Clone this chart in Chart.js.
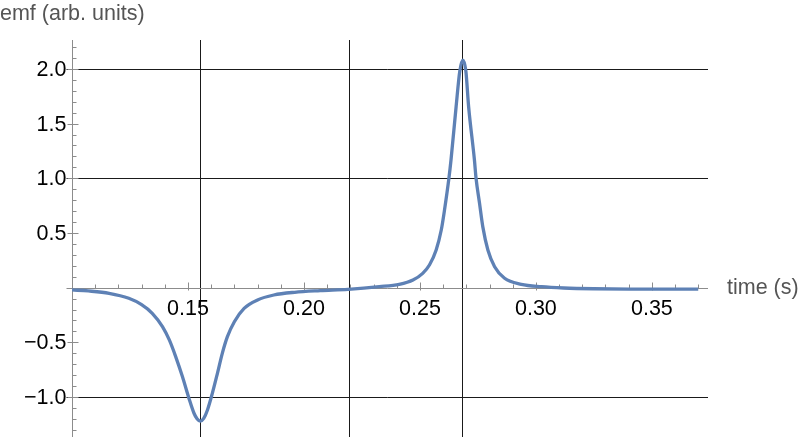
<!DOCTYPE html>
<html>
<head>
<meta charset="utf-8">
<script src="https://cdn.jsdelivr.net/npm/chart.js@4/dist/chart.umd.min.js"></script>
<style>
  html, body { margin: 0; padding: 0; background: #fff; }
  #wrap { width: 800px; height: 443px; }
</style>
</head>
<body>
<div id="wrap"><canvas id="chart" width="800" height="443"></canvas></div>
<script>
// values
const times = [
    0.100, 0.107, 0.116, 0.1245, 0.130, 0.1346, 0.139, 0.142, 0.1447, 0.1476,
    0.1504, 0.1526, 0.1539, 0.1553, 0.1568, 0.1584, 0.1605, 0.1627, 0.1648, 0.167,
    0.170, 0.1742, 0.180, 0.187, 0.196, 0.207, 0.219, 0.2325, 0.2411, 0.247,
    0.2512, 0.2541, 0.257, 0.2592, 0.2606, 0.2625, 0.2634, 0.2656, 0.2672, 0.2685,
    0.2698, 0.271, 0.2735, 0.2742, 0.2757, 0.2771, 0.2793, 0.2822, 0.2865, 0.2937,
    0.3024, 0.312, 0.325, 0.345, 0.370
];
const emf = [
    -0.021, -0.030, -0.051, -0.097, -0.155, -0.234, -0.356, -0.48, -0.63, -0.813,
    -1.01, -1.148, -1.198, -1.22, -1.195, -1.118, -0.966, -0.783, -0.60, -0.448,
    -0.311, -0.189, -0.112, -0.067, -0.042, -0.027, -0.015, 0.009, 0.031, 0.07,
    0.131, 0.207, 0.345, 0.527, 0.71, 1.0, 1.167, 1.654, 1.98, 2.08,
    1.98, 1.654, 1.167, 1.0, 0.771, 0.558, 0.345, 0.192, 0.086, 0.031,
    0.009, -0.003, -0.010, -0.013, -0.014
];

const xTicks = [0.15, 0.20, 0.25, 0.30, 0.35];
const xTickLabels = ['0.15', '0.20', '0.25', '0.30', '0.35'];
const yTicks = [2.0, 1.5, 1.0, 0.5, -0.5, -1.0];
const yTickLabels = ['2.0', '1.5', '1.0', '0.5', '\u22120.5', '\u22121.0'];
const xGrid = [0.1552, 0.2195, 0.2683];
const yGrid = [2.0, 1.0, -1.0];

const FONT = '"Liberation Sans", Arial, Helvetica, sans-serif';

const axesPlugin = {
    id: 'mmaAxes',
    beforeDatasetsDraw(chart) {
        const ctx = chart.ctx;
        const xs = chart.scales.x;
        const ys = chart.scales.y;
        const area = chart.chartArea;
        const x0 = Math.round(xs.getPixelForValue(0.1)) + 0.5;
        const y0 = Math.round(ys.getPixelForValue(0)) + 0.5;

        ctx.save();
        // grid lines
        ctx.strokeStyle = '#1a1a1a';
        ctx.lineWidth = 1;
        xGrid.forEach(v => {
            const px = Math.round(xs.getPixelForValue(v)) + 0.5;
            ctx.beginPath();
            ctx.moveTo(px, area.top);
            ctx.lineTo(px, area.bottom);
            ctx.stroke();
        });
        yGrid.forEach(v => {
            const py = Math.round(ys.getPixelForValue(v)) + 0.5;
            ctx.beginPath();
            ctx.moveTo(x0 - 6, py);
            ctx.lineTo(area.right, py);
            ctx.stroke();
        });

        // axis lines
        ctx.strokeStyle = '#8c8c8c';
        ctx.beginPath();
        ctx.moveTo(x0, area.top);
        ctx.lineTo(x0, area.bottom);
        ctx.moveTo(x0 - 6, y0);
        ctx.lineTo(area.right, y0);
        ctx.stroke();

        // x ticks (inward, upward)
        ctx.beginPath();
        for (let i = 11; i <= 37; i++) {
            const px = Math.round(xs.getPixelForValue(i / 100)) + 0.5;
            const major = i % 5 === 0;
            ctx.moveTo(px, y0 + (major ? 2 : 0));
            ctx.lineTo(px, y0 - (major ? 6 : 4));
        }
        // y ticks (inward, to the right)
        for (let i = -13; i <= 22; i++) {
            if (i === 0) continue;
            const py = Math.round(ys.getPixelForValue(i / 10)) + 0.5;
            const major = i % 5 === 0;
            ctx.moveTo(x0 - (major ? 5 : 0), py);
            ctx.lineTo(x0 + (major ? 6 : 4), py);
        }
        ctx.stroke();

        // tick labels
        ctx.fillStyle = '#000';
        ctx.font = '21.5px ' + FONT;
        ctx.textAlign = 'center';
        ctx.textBaseline = 'middle';
        xTicks.forEach((v, i) => {
            ctx.fillText(xTickLabels[i], xs.getPixelForValue(v), y0 + 21);
        });
        ctx.textAlign = 'right';
        yTicks.forEach((v, i) => {
            ctx.fillText(yTickLabels[i], x0 - 6, ys.getPixelForValue(v) + 1);
        });

        // axis titles
        ctx.fillStyle = '#555';
        ctx.textAlign = 'left';
        ctx.font = '21.5px ' + FONT;
        ctx.fillText('time (s)', area.right + 19, y0);
        ctx.fillText('emf (arb. units)', 0, 14);
        ctx.restore();
    }
};

new Chart(document.getElementById('chart'), {
    type: 'line',
    data: {
        datasets: [{
            data: times.map((t, i) => ({ x: t, y: emf[i] })),
            borderColor: '#5e81b5',
            borderWidth: 3.3,
            pointRadius: 0,
            cubicInterpolationMode: 'monotone',
            fill: false
        }]
    },
    options: {
        responsive: false,
        animation: false,
        layout: { padding: { left: 72, right: 92, top: 40, bottom: 6 } },
        scales: {
            x: { type: 'linear', min: 0.1, max: 0.3742, display: false },
            y: { type: 'linear', min: -1.365, max: 2.264, display: false }
        },
        plugins: {
            legend: { display: false },
            tooltip: { enabled: false }
        }
    },
    plugins: [axesPlugin]
});
</script>
</body>
</html>
